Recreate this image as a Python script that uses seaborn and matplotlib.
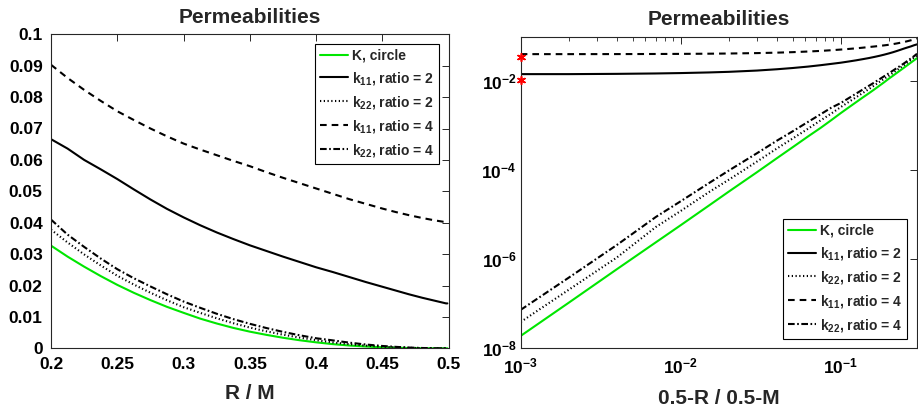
import numpy as np
import pandas as pd
import matplotlib
matplotlib.use("Agg")
import matplotlib.pyplot as plt
import seaborn as sns
from matplotlib.ticker import FuncFormatter, LogLocator, NullLocator, NullFormatter

# Gap between inclusion and cell edge, 0.5 - R (in units of M)
gap = [0.001, 0.002, 0.004, 0.007, 0.01, 0.015, 0.02, 0.03, 0.04, 0.05,
       0.0625, 0.075, 0.0875, 0.1, 0.1125, 0.125, 0.1375, 0.15, 0.1625,
       0.175, 0.1875, 0.2, 0.2125, 0.225, 0.2375, 0.25, 0.2625, 0.275,
       0.2875, 0.3]

# Permeability of the circular inclusion
k_circle = [1.9e-8, 1.06e-7, 6.0e-7, 2.4e-6, 5.8e-6, 1.6e-5, 3.3e-5, 9.0e-5,
            1.86e-4, 3.25e-4, 5.7e-4, 8.9e-4, 1.33e-3, 1.9e-3, 2.57e-3,
            3.36e-3, 4.28e-3, 5.3e-3, 6.5e-3, 7.9e-3, 9.46e-3, 0.0113,
            0.0132, 0.01535, 0.01767, 0.0202, 0.0230, 0.0260, 0.0292, 0.0327]
# Elliptical inclusions, aspect ratio 2
k11_r2 = [0.0143, 0.0143, 0.0145, 0.0148, 0.0151, 0.0156, 0.0161, 0.0172,
          0.0184, 0.0196, 0.0211, 0.0227, 0.0243, 0.0258, 0.0275, 0.0292,
          0.0310, 0.0328, 0.0348, 0.0369, 0.0392, 0.0417, 0.0444, 0.0474,
          0.0506, 0.0539, 0.0570, 0.0600, 0.0636, 0.0666]
k22_r2 = [3.9e-8, 2.07e-7, 1.1e-6, 5.3e-6, 1.21e-5, 3.2e-5, 6.1e-5, 1.56e-4,
          3.07e-4, 5.1e-4, 8.5e-4, 1.31e-3, 1.87e-3, 2.6e-3, 3.41e-3,
          4.34e-3, 5.4e-3, 6.6e-3, 8.0e-3, 9.56e-3, 0.0113, 0.0131, 0.0153,
          0.0177, 0.0203, 0.0231, 0.0264, 0.0299, 0.0337, 0.0378]
# Elliptical inclusions, aspect ratio 4
k11_r4 = [0.0402, 0.0402, 0.0403, 0.0405, 0.0407, 0.0411, 0.0415, 0.0424,
          0.0434, 0.0445, 0.0460, 0.0475, 0.0492, 0.0509, 0.0526, 0.0543,
          0.0561, 0.0580, 0.0597, 0.0615, 0.0633, 0.0652, 0.0675, 0.0700,
          0.0727, 0.0755, 0.0788, 0.0823, 0.0861, 0.0903]
k22_r4 = [7.3e-8, 3.87e-7, 2.1e-6, 8.9e-6, 2.0e-5, 5.1e-5, 9.8e-5, 2.4e-4,
          4.6e-4, 7.4e-4, 1.21e-3, 1.8e-3, 2.53e-3, 3.2e-3, 4.15e-3,
          5.23e-3, 6.45e-3, 7.8e-3, 9.3e-3, 0.0110, 0.0129, 0.0149, 0.0172,
          0.0197, 0.0223, 0.0252, 0.0286, 0.0323, 0.0362, 0.0410]

# Limiting values marked on the log plot
limit_gap = [0.001, 0.001]
limit_vals = [0.034, 0.0105]

labels = ["K, circle", r"k$_{11}$, ratio = 2", r"k$_{22}$, ratio = 2",
          r"k$_{11}$, ratio = 4", r"k$_{22}$, ratio = 4"]
series = [k_circle, k11_r2, k22_r2, k11_r4, k22_r4]
colors = ["#00e600", "black", "black", "black", "black"]
styles = ["-", "-", (0, (0.6, 1.2)), (0, (3.2, 2.4)), (0, (3.2, 1.2, 0.8, 1.2))]

sns.set_theme(style="white")
plt.rcParams.update({
    "font.family": ["Liberation Sans", "DejaVu Sans"],
    "font.weight": "bold",
    "mathtext.fontset": "custom",
    "mathtext.rm": "Liberation Sans:bold",
    "mathtext.bf": "Liberation Sans:bold",
    "mathtext.it": "Liberation Sans:bold",
    "mathtext.default": "bf",
    "axes.edgecolor": "#262626",
    "axes.linewidth": 0.8,
    "xtick.color": "#262626",
    "ytick.color": "#262626",
    "xtick.labelcolor": "black",
    "ytick.labelcolor": "black",
})

df = pd.DataFrame({"gap": gap})
df["R"] = 0.5 - df["gap"]
for lab, vals in zip(labels, series):
    df[lab] = vals

fig = plt.figure(figsize=(9.18, 4.12), dpi=100)
ax1 = fig.add_axes([51 / 918, 63.7 / 412, 397.7 / 918, 314 / 412])
ax2 = fig.add_axes([520.7 / 918, 63.7 / 412, 396.3 / 918, 311.8 / 412])

for ax, xcol in ((ax1, "R"), (ax2, "gap")):
    for lab, col, ls in zip(labels, colors, styles):
        sns.lineplot(data=df, x=xcol, y=lab, ax=ax, color=col, linestyle=ls,
                     linewidth=1.5, label=lab, legend=False)

# asterisk markers at the left edge of the log panel
sns.scatterplot(x=limit_gap, y=limit_vals, ax=ax2, color="red",
                marker=(6, 2, 0), s=30, linewidth=1.2, edgecolor="red",
                legend=False, clip_on=False, zorder=5)

# Linear panel
ax1.set_xlim(0.2, 0.5)
ax1.set_ylim(0, 0.1)
ax1.set_xticks(np.arange(0.2, 0.5001, 0.05))
ax1.set_yticks(np.arange(0, 0.1001, 0.01))
fmt = FuncFormatter(lambda v, p: f"{round(v, 4):g}")
ax1.xaxis.set_major_formatter(fmt)
ax1.yaxis.set_major_formatter(fmt)
ax1.set_xlabel("R / M", fontsize=15, fontweight="bold", labelpad=9)

# Log panel
ax2.set_xscale("log")
ax2.set_yscale("log")
ax2.set_xlim(1e-3, 0.3)
ax2.set_ylim(1e-8, 1e-1)
ax2.set_yticks([1e-8, 1e-6, 1e-4, 1e-2])
ax2.yaxis.set_minor_locator(NullLocator())
ax2.xaxis.set_major_locator(LogLocator(base=10))
ax2.xaxis.set_minor_locator(LogLocator(base=10, subs=np.arange(2, 10)))
ax2.xaxis.set_minor_formatter(NullFormatter())
ax2.set_xlabel("0.5-R / 0.5-M", fontsize=15, fontweight="bold", labelpad=9)

for ax in (ax1, ax2):
    ax.set_ylabel("")
    ax.set_title("Permeabilities", fontsize=15, fontweight="bold", pad=8)
    ax.tick_params(which="both", direction="in", top=True, right=True,
                   labelsize=12.5, pad=6)
    ax.tick_params(which="major", length=5, width=0.7)
    ax.tick_params(which="minor", length=3, width=0.6)
    for t in ax.get_xticklabels() + ax.get_yticklabels():
        t.set_fontweight("bold")
    for s in ax.spines.values():
        s.set_visible(True)

ax2.tick_params(axis="y", pad=3)

leg_kw = dict(fontsize=10, frameon=True, fancybox=False, framealpha=1,
              edgecolor="black", handlelength=2.0, handletextpad=0.3,
              labelspacing=0.5, borderpad=0.35, borderaxespad=0.7)
h1, l1 = ax1.get_legend_handles_labels()
leg1 = ax1.legend(h1[:5], l1[:5], loc="upper right", **leg_kw)
h2, l2 = ax2.get_legend_handles_labels()
leg2 = ax2.legend(h2[:5], l2[:5], loc="lower right", **leg_kw)
for leg in (leg1, leg2):
    leg.get_frame().set_linewidth(0.8)
    for t in leg.get_texts():
        t.set_fontweight("bold")

fig.savefig("out.png", dpi=100)
